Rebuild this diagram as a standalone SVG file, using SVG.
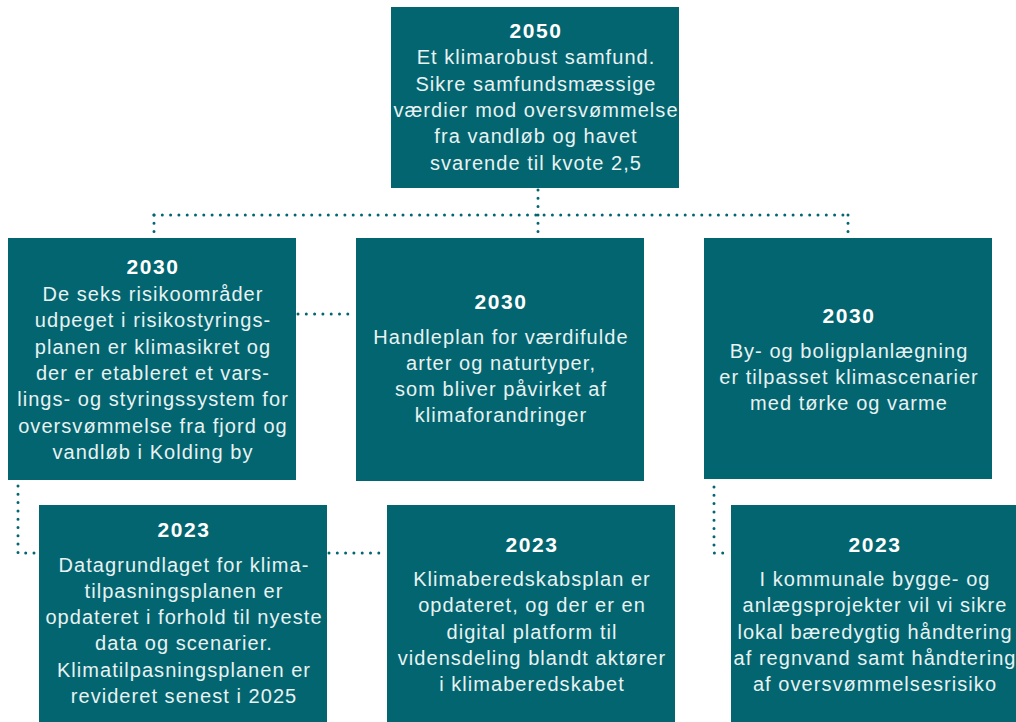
<svg xmlns="http://www.w3.org/2000/svg" width="1016" height="722" viewBox="0 0 1016 722">
<style>
.box{fill:#03656F}
.yr{font-family:"Liberation Sans",Arial,sans-serif;font-weight:bold;font-size:21px;letter-spacing:1.6px;fill:#fff;text-anchor:middle}
.tx{font-family:"Liberation Sans",Arial,sans-serif;font-size:20px;letter-spacing:1.05px;fill:#e8f2f3;text-anchor:middle}
.dot{fill:none;stroke:#03656F;stroke-width:3;stroke-linecap:round;stroke-dasharray:0 8.3}
</style>
<rect width="1016" height="722" fill="#fff"/>
<g id="connectors">
<path class="dot" d="M154 215 H848"/>
<path class="dot" d="M538 190 V238"/>
<path class="dot" d="M154 215 V236"/>
<path class="dot" d="M848 215 V236"/>
<path class="dot" d="M298 314 H356"/>
<path class="dot" d="M18 486 V553 H39"/>
<path class="dot" d="M329 553 H387"/>
<path class="dot" d="M714 487 V553 H731"/>
</g>
<g id="n2050">
<rect class="box" x="391" y="7" width="288" height="181"/>
<text class="yr" x="536" y="37.7">2050</text>
<text class="tx" x="536" y="64.3">Et klimarobust samfund.</text>
<text class="tx" x="536" y="90.7">Sikre samfundsmæssige</text>
<text class="tx" x="536" y="117">værdier mod oversvømmelse</text>
<text class="tx" x="536" y="143.3">fra vandløb og havet</text>
<text class="tx" x="536" y="169.6">svarende til kvote 2,5</text>
</g>
<g id="n2030a">
<rect class="box" x="8" y="238" width="288" height="242"/>
<text class="yr" x="153" y="273.5">2030</text>
<text class="tx" x="153" y="301">De seks risikoområder</text>
<text class="tx" x="153" y="327.3">udpeget i risikostyrings-</text>
<text class="tx" x="153" y="353.6">planen er klimasikret og</text>
<text class="tx" x="153" y="380">der er etableret et vars-</text>
<text class="tx" x="153" y="406.2">lings- og styringssystem for</text>
<text class="tx" x="153" y="432.5">oversvømmelse fra fjord og</text>
<text class="tx" x="153" y="458.8">vandløb i Kolding by</text>
</g>
<g id="n2030b">
<rect class="box" x="356" y="238" width="288" height="243"/>
<text class="yr" x="501" y="308.5">2030</text>
<text class="tx" x="501" y="343.5">Handleplan for værdifulde</text>
<text class="tx" x="501" y="369.8">arter og naturtyper,</text>
<text class="tx" x="501" y="396.1">som bliver påvirket af</text>
<text class="tx" x="501" y="422.4">klimaforandringer</text>
</g>
<g id="n2030c">
<rect class="box" x="704" y="238" width="288" height="241"/>
<text class="yr" x="849" y="322.5">2030</text>
<text class="tx" x="849" y="357.5">By- og boligplanlægning</text>
<text class="tx" x="849" y="383.8">er tilpasset klimascenarier</text>
<text class="tx" x="849" y="410.1">med tørke og varme</text>
</g>
<g id="n2023a">
<rect class="box" x="39" y="505" width="288" height="217"/>
<text class="yr" x="184" y="536.5">2023</text>
<text class="tx" x="184" y="571.5">Datagrundlaget for klima-</text>
<text class="tx" x="184" y="597.8">tilpasningsplanen er</text>
<text class="tx" x="184" y="624.1">opdateret i forhold til nyeste</text>
<text class="tx" x="184" y="650.4">data og scenarier.</text>
<text class="tx" x="184" y="676.7">Klimatilpasningsplanen er</text>
<text class="tx" x="184" y="703">revideret senest i 2025</text>
</g>
<g id="n2023b">
<rect class="box" x="387" y="505" width="288" height="217"/>
<text class="yr" x="532" y="551.7">2023</text>
<text class="tx" x="532" y="586">Klimaberedskabsplan er</text>
<text class="tx" x="532" y="612.3">opdateret, og der er en</text>
<text class="tx" x="532" y="638.6">digital platform til</text>
<text class="tx" x="532" y="664.9">vidensdeling blandt aktører</text>
<text class="tx" x="532" y="691.2">i klimaberedskabet</text>
</g>
<g id="n2023c">
<rect class="box" x="731" y="505" width="288" height="217"/>
<text class="yr" x="875" y="551.7">2023</text>
<text class="tx" x="875" y="586">I kommunale bygge- og</text>
<text class="tx" x="875" y="612.3">anlægsprojekter vil vi sikre</text>
<text class="tx" x="875" y="638.6">lokal bæredygtig håndtering</text>
<text class="tx" x="875" y="664.9">af regnvand samt håndtering</text>
<text class="tx" x="875" y="691.2">af oversvømmelsesrisiko</text>
</g>
</svg>
